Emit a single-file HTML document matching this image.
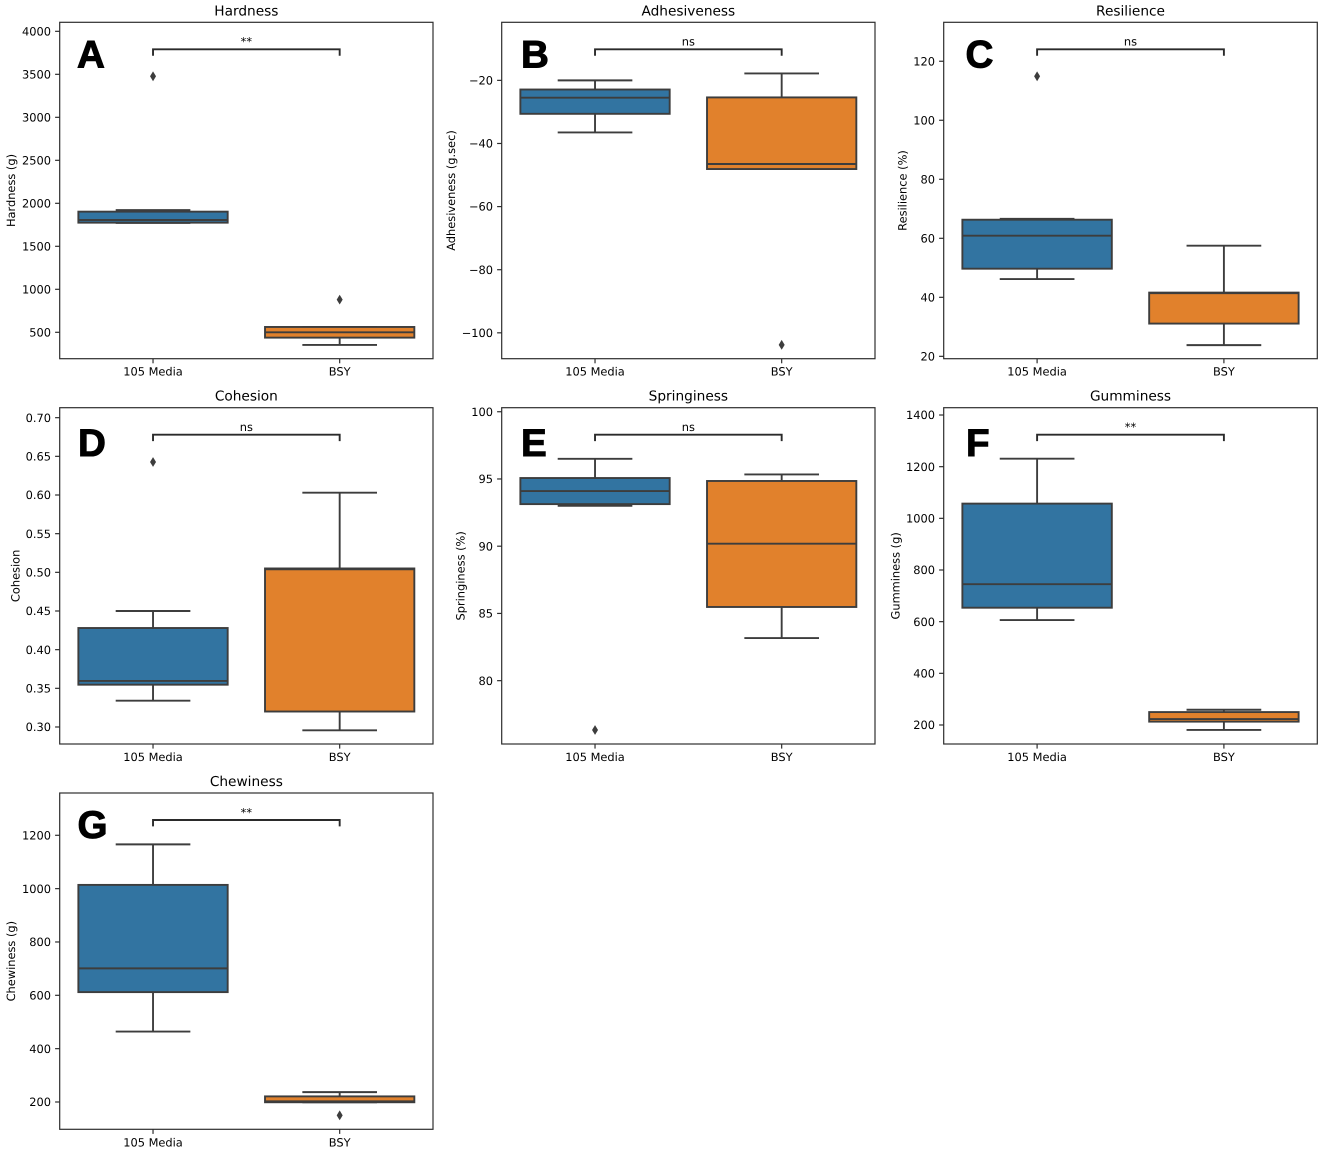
<!DOCTYPE html>
<html lang="en">
<head>
<meta charset="utf-8">
<title>Texture profile box plots</title>
<style>
  html, body { margin: 0; padding: 0; background: #fff; }
  svg { display: block; filter: blur(0.35px); }
  text { font-family: "DejaVu Sans", "Liberation Sans", sans-serif; fill: #000; text-rendering: geometricPrecision; }
  .title { font-size: 13.7px; text-anchor: middle; }
  .axis-label { font-size: 11.4px; text-anchor: middle; }
  .x-label { font-size: 11.4px; text-anchor: middle; }
  .letter { font-family: "Liberation Sans", Arial, sans-serif; font-weight: 700; font-size: 38.6px; fill: #000; stroke: #000; stroke-width: 1px; }
</style>
</head>
<body>
<svg id="figure" xmlns="http://www.w3.org/2000/svg" width="1325" height="1151" viewBox="0 0 1325 1151">
  <rect width="1325" height="1151" fill="#fff"/>

  <g id="panel-hardness">
    <text class="title" x="246.35" y="15.3">Hardness</text>
    <text class="axis-label" transform="translate(15 190.5) rotate(-90)">Hardness (g)</text>
    <text class="x-label" x="153" y="375.7">105 Media</text>
    <text class="x-label" x="339.7" y="375.7">BSY</text>
    <text class="letter" x="77" y="67.7">A</text>
  </g>

  <g id="panel-adhesiveness">
    <text class="title" x="688.35" y="15.3">Adhesiveness</text>
    <text class="axis-label" transform="translate(455 190.5) rotate(-90)">Adhesiveness (g.sec)</text>
    <text class="x-label" x="595" y="375.7">105 Media</text>
    <text class="x-label" x="781.7" y="375.7">BSY</text>
    <text class="letter" x="521" y="67.7">B</text>
  </g>

  <g id="panel-resilience">
    <text class="title" x="1130.5" y="15.3">Resilience</text>
    <text class="axis-label" transform="translate(906.3 190.5) rotate(-90)">Resilience (%)</text>
    <text class="x-label" x="1037.1" y="375.7">105 Media</text>
    <text class="x-label" x="1223.9" y="375.7">BSY</text>
    <text class="letter" x="965.5" y="67.7">C</text>
  </g>

  <g id="panel-cohesion">
    <text class="title" x="246.35" y="400.7">Cohesion</text>
    <text class="axis-label" transform="translate(19.3 575.85) rotate(-90)">Cohesion</text>
    <text class="x-label" x="153" y="761">105 Media</text>
    <text class="x-label" x="339.7" y="761">BSY</text>
    <text class="letter" x="78" y="456">D</text>
  </g>

  <g id="panel-springiness">
    <text class="title" x="688.35" y="400.7">Springiness</text>
    <text class="axis-label" transform="translate(464.3 575.85) rotate(-90)">Springiness (%)</text>
    <text class="x-label" x="595" y="761">105 Media</text>
    <text class="x-label" x="781.7" y="761">BSY</text>
    <text class="letter" x="521" y="456">E</text>
  </g>

  <g id="panel-gumminess">
    <text class="title" x="1130.5" y="400.7">Gumminess</text>
    <text class="axis-label" transform="translate(899.3 575.85) rotate(-90)">Gumminess (g)</text>
    <text class="x-label" x="1037.1" y="761">105 Media</text>
    <text class="x-label" x="1223.9" y="761">BSY</text>
    <text class="letter" x="966" y="456">F</text>
  </g>

  <g id="panel-chewiness">
    <text class="title" x="246.35" y="786">Chewiness</text>
    <text class="axis-label" transform="translate(15 961.15) rotate(-90)">Chewiness (g)</text>
    <text class="x-label" x="153" y="1146.3">105 Media</text>
    <text class="x-label" x="339.7" y="1146.3">BSY</text>
    <text class="letter" x="77.5" y="838">G</text>
  </g>
</svg>

<script>
// Each box is [whiskerLow, q1, median, q3, whiskerHigh]. Outliers are one list per category.
const hardnessDomain = [193, 4105];
const hardnessTicks = [500, 1000, 1500, 2000, 2500, 3000, 3500, 4000];
const hardnessMedia = [1772, 1775, 1806, 1903, 1922];
const hardnessBsy = [353, 438, 500, 562, 562];
const hardnessOutliers = [[3477], [880]];
const hardnessSignificance = ['**'];

const adhesivenessDomain = [-108.2, -1.6];
const adhesivenessTicks = [-100, -80, -60, -40, -20];
const adhesivenessMedia = [-36.5, -30.6, -25.5, -22.9, -20];
const adhesivenessBsy = [-48.1, -48.1, -46.5, -25.4, -17.8];
const adhesivenessOutliers = [[], [-103.8]];
const adhesivenessSignificance = ['ns'];

const resilienceDomain = [19.2, 133.2];
const resilienceTicks = [20, 40, 60, 80, 100, 120];
const resilienceMedia = [46.2, 49.7, 60.9, 66.3, 66.6];
const resilienceBsy = [23.8, 31.1, 41.4, 41.6, 57.5];
const resilienceOutliers = [[114.9], []];
const resilienceSignificance = ['ns'];

const cohesionDomain = [0.278, 0.7129];
const cohesionTicks = [0.30, 0.35, 0.40, 0.45, 0.50, 0.55, 0.60, 0.65, 0.70];
const cohesionMedia = [0.334, 0.3547, 0.3595, 0.428, 0.45];
const cohesionBsy = [0.2957, 0.32, 0.504, 0.505, 0.603];
const cohesionOutliers = [[0.6427], []];
const cohesionSignificance = ['ns'];

const springinessDomain = [75.29, 100.3];
const springinessTicks = [80, 85, 90, 95, 100];
const springinessMedia = [93.0, 93.13, 94.1, 95.07, 96.5];
const springinessBsy = [83.17, 85.48, 90.19, 94.85, 95.34];
const springinessOutliers = [[76.33], []];
const springinessSignificance = ['ns'];

const gumminessDomain = [126.4, 1428.3];
const gumminessTicks = [200, 400, 600, 800, 1000, 1200, 1400];
const gumminessMedia = [606, 654, 745, 1057, 1231];
const gumminessBsy = [181, 213, 223, 250, 259];
const gumminessOutliers = [[], []];
const gumminessSignificance = ['**'];

const chewinessDomain = [97.6, 1358.6];
const chewinessTicks = [200, 400, 600, 800, 1000, 1200];
const chewinessMedia = [464, 612, 701, 1014, 1166];
const chewinessBsy = [199, 199, 202.5, 221, 237];
const chewinessOutliers = [[], [150]];
const chewinessSignificance = ['**'];

const NS = 'http://www.w3.org/2000/svg';
const INK = '#3d3d3d';
const FRAME = '#2e2e2e';
const BOX_COLORS = ['#3274a1', '#e1812c'];
const CATEGORY_KEYS = ['media', 'bsy'];

const panels = [
  { key: 'hardness', left: 59.7, right: 433, top: 22.3, bottom: 358.7, decimals: 0, domain: hardnessDomain, ticks: hardnessTicks, boxes: [hardnessMedia, hardnessBsy], outliers: hardnessOutliers, sig: hardnessSignificance },
  { key: 'adhesiveness', left: 501.7, right: 875, top: 22.3, bottom: 358.7, decimals: 0, domain: adhesivenessDomain, ticks: adhesivenessTicks, boxes: [adhesivenessMedia, adhesivenessBsy], outliers: adhesivenessOutliers, sig: adhesivenessSignificance },
  { key: 'resilience', left: 943.7, right: 1317.3, top: 22.3, bottom: 358.7, decimals: 0, domain: resilienceDomain, ticks: resilienceTicks, boxes: [resilienceMedia, resilienceBsy], outliers: resilienceOutliers, sig: resilienceSignificance },
  { key: 'cohesion', left: 59.7, right: 433, top: 407.7, bottom: 744, decimals: 2, domain: cohesionDomain, ticks: cohesionTicks, boxes: [cohesionMedia, cohesionBsy], outliers: cohesionOutliers, sig: cohesionSignificance },
  { key: 'springiness', left: 501.7, right: 875, top: 407.7, bottom: 744, decimals: 0, domain: springinessDomain, ticks: springinessTicks, boxes: [springinessMedia, springinessBsy], outliers: springinessOutliers, sig: springinessSignificance },
  { key: 'gumminess', left: 943.7, right: 1317.3, top: 407.7, bottom: 744, decimals: 0, domain: gumminessDomain, ticks: gumminessTicks, boxes: [gumminessMedia, gumminessBsy], outliers: gumminessOutliers, sig: gumminessSignificance },
  { key: 'chewiness', left: 59.7, right: 433, top: 793, bottom: 1129.3, decimals: 0, domain: chewinessDomain, ticks: chewinessTicks, boxes: [chewinessMedia, chewinessBsy], outliers: chewinessOutliers, sig: chewinessSignificance }
];

function make(parent, tag, attrs) {
  const el = document.createElementNS(NS, tag);
  for (const k in attrs) el.setAttribute(k, attrs[k]);
  parent.appendChild(el);
  return el;
}

function line(parent, x1, y1, x2, y2, stroke, width) {
  return make(parent, 'line', { x1: x1, y1: y1, x2: x2, y2: y2, stroke: stroke, 'stroke-width': width });
}

function drawBox(group, p, i, xScale, yScale) {
  const [low, q1, median, q3, high] = p.boxes[i];
  const cx = xScale(i);
  const halfBox = (xScale(1) - xScale(0)) * 0.4;
  const halfCap = (xScale(1) - xScale(0)) * 0.2;
  const prefix = p.key + '-' + CATEGORY_KEYS[i];

  const g = make(group, 'g', {});
  
  

  const whiskerUp = line(g, cx, yScale(q3), cx, yScale(high), INK, 1.9);
  
  

  const whiskerDown = line(g, cx, yScale(q1), cx, yScale(low), INK, 1.9);
  
  

  const capUp = line(g, cx - halfCap, yScale(high), cx + halfCap, yScale(high), INK, 1.9);
  
  

  const capDown = line(g, cx - halfCap, yScale(low), cx + halfCap, yScale(low), INK, 1.9);
  
  

  const box = make(g, 'rect', {
    x: cx - halfBox, y: yScale(q3), width: halfBox * 2, height: yScale(q1) - yScale(q3),
    fill: BOX_COLORS[i], stroke: INK, 'stroke-width': 1.9
  });
  
  

  const med = line(g, cx - halfBox, yScale(median), cx + halfBox, yScale(median), INK, 1.9);
  
  

  p.outliers[i].forEach(function (value) {
    const y = yScale(value);
    const dot = make(g, 'polygon', {
      points: [cx, y - 4.9, cx + 3, y, cx, y + 4.9, cx - 3, y].join(' '),
      fill: INK
    });
    
    
  });
}

panels.forEach(function (p) {
  const group = document.getElementById('panel-' + p.key);
  const unit = (p.right - p.left) / 2;
  const xScale = function (i) { return p.left + unit * (i + 0.5); };
  const yScale = function (v) {
    return p.top + (p.domain[1] - v) / (p.domain[1] - p.domain[0]) * (p.bottom - p.top);
  };

  const first = group.firstChild;
  const marks = document.createElementNS(NS, 'g');
  
  
  group.insertBefore(marks, first);

  p.boxes.forEach(function (_, i) { drawBox(marks, p, i, xScale, yScale); });

  const frame = make(marks, 'rect', {
    x: p.left, y: p.top, width: p.right - p.left, height: p.bottom - p.top,
    fill: 'none', stroke: FRAME, 'stroke-width': 1.2
  });
  
  

  p.ticks.forEach(function (value) {
    const y = yScale(value);
    const tick = line(marks, p.left - 4.6, y, p.left, y, FRAME, 1.2);
    
    

    const label = make(marks, 'text', {
      x: p.left - 8.7, y: y + 4.15, 'text-anchor': 'end', 'font-size': '11.4px'
    });
    label.textContent = value.toFixed(p.decimals).replace('-', '\u2212');
    
    
  });

  [0, 1].forEach(function (i) {
    const tick = line(marks, xScale(i), p.bottom, xScale(i), p.bottom + 4.6, FRAME, 1.2);
    
    
  });

  const by = p.top + 27;
  const bracket = make(marks, 'path', {
    d: 'M' + xScale(0) + ' ' + (by + 6.4) + 'V' + by + 'H' + xScale(1) + 'V' + (by + 6.4),
    fill: 'none', stroke: '#2a2a2a', 'stroke-width': 1.9
  });
  
  

  const sig = make(marks, 'text', {
    x: (xScale(0) + xScale(1)) / 2, y: p.top + 23.4, 'text-anchor': 'middle', 'font-size': '11.4px'
  });
  sig.textContent = p.sig[0];
  
  
});
</script>
</body>
</html>
